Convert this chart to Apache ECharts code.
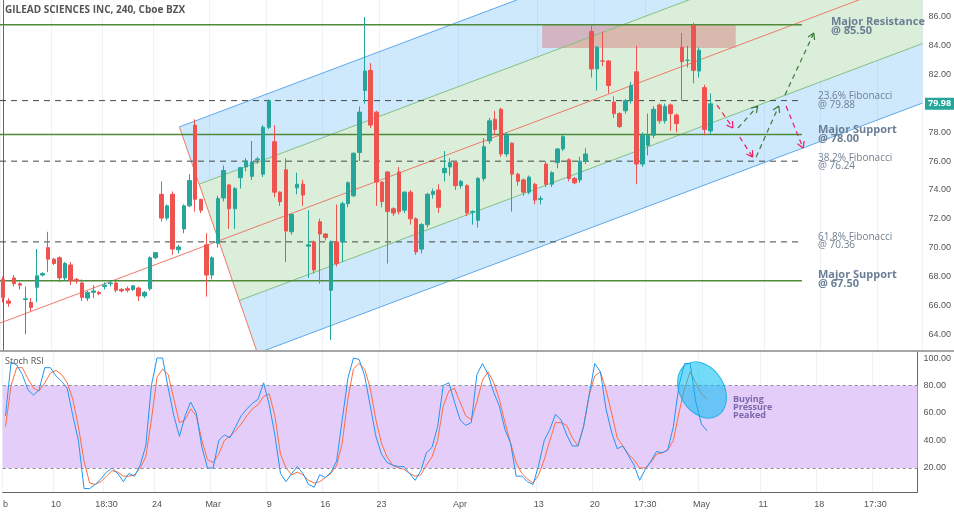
<!DOCTYPE html>
<html>
<head>
<meta charset="utf-8">
<script src="https://cdn.jsdelivr.net/npm/echarts@6/dist/echarts.min.js"></script>
<style>
  html, body { margin: 0; padding: 0; background: #fff; }
  #chartBox { width: 954px; height: 513px; }
</style>
</head>
<body>
<div id="chartBox"></div>
<script>
// candles: [open, close, low, high], one per 4h bar
const candles = [
  [67.8,66.55,66.2,68.0],[66.3,66.15,65.9,66.5],[67.9,67.5,67.3,68.1],[67.5,67.4,67.1,67.6],
  [66.4,66.45,64.0,67.3],[66.2,65.85,65.6,66.5],[67.25,68.05,66.2,69.9],[68.1,68.2,68.0,68.3],
  [70.0,69.2,68.3,71.1],[69.2,68.9,68.8,69.3],[69.3,67.9,67.6,69.4],[67.9,68.9,67.7,69.0],
  [68.8,67.7,67.4,69.0],[67.8,67.7,67.5,67.9],[67.55,66.55,66.3,67.8],[66.5,66.9,66.3,67.0],
  [66.9,67.0,66.5,67.4],[66.9,66.8,66.7,67.0],[67.3,67.4,67.1,67.6],[67.5,67.55,67.3,67.7],
  [67.55,67.05,66.9,67.7],[67.1,67.0,66.9,67.2],[67.15,67.05,66.9,67.3],[67.1,67.35,67.0,67.4],
  [67.2,66.65,66.3,67.3],[66.65,66.9,66.5,67.0],[67.15,69.3,67.0,69.4],[69.3,69.65,69.2,69.7],
  [73.7,72.05,71.8,74.6],[72.05,72.9,71.9,73.0],[73.7,69.9,69.5,73.9],[69.85,70.05,69.6,70.2],
  [71.3,72.9,71.0,73.0],[72.9,74.65,72.8,75.1],[78.5,73.35,72.5,78.9],[73.35,72.6,72.4,73.4],
  [70.2,68.1,66.6,71.0],[68.1,69.3,67.8,69.4],[70.3,73.4,70.0,73.6],[73.45,75.35,73.2,75.7],
  [74.35,72.7,71.3,74.4],[72.7,74.1,71.3,74.2],[74.85,75.55,74.1,75.6],[75.6,76.0,75.3,76.2],
  [74.95,75.95,74.7,77.4],[76.1,76.15,75.8,76.3],[75.1,78.35,74.9,78.5],[78.35,80.2,78.2,80.3],
  [77.35,73.85,73.5,78.5],[73.85,73.2,72.9,73.9],[75.4,71.15,69.0,76.2],[71.1,72.3,70.9,72.4],
  [74.15,74.4,73.7,75.2],[74.4,73.65,72.9,74.7],[70.1,70.2,67.9,72.6],[70.4,68.45,68.2,70.5],
  [71.8,70.95,67.5,72.0],[70.95,70.7,70.5,71.0],[67.05,70.4,63.6,70.5],[70.4,68.9,68.7,73.0],
  [70.4,73.05,69.0,73.2],[73.05,74.5,72.8,74.6],[73.6,76.55,73.5,76.6],[76.6,79.4,76.0,79.8],
  [80.9,82.25,80.0,86.0],[82.3,78.5,78.3,82.8],[79.4,74.55,72.9,79.5],[74.55,73.2,72.8,74.6],
  [75.25,72.5,68.9,75.3],[72.7,72.4,72.2,72.8],[75.25,72.5,72.3,75.6],[72.6,73.85,72.4,73.9],
  [73.85,72.0,71.6,74.0],[72.0,69.7,69.5,72.1],[69.9,71.6,69.6,71.7],[71.6,73.7,71.4,73.8],
  [73.7,73.9,73.4,74.1],[74.0,72.8,72.4,74.4],[75.2,75.5,74.6,76.7],[75.6,75.9,75.0,76.2],
  [75.9,74.3,74.0,76.0],[74.3,74.6,74.1,74.7],[74.3,72.4,72.2,74.4],[72.45,72.5,71.6,72.6],
  [71.9,74.8,71.4,74.9],[74.8,77.0,74.6,77.6],[77.4,78.8,77.2,79.0],[78.9,78.2,77.8,79.5],
  [79.6,76.5,76.3,79.7],[76.5,77.8,76.3,78.0],[77.25,75.1,72.5,77.3],[75.1,74.6,74.3,75.2],
  [74.7,73.85,73.6,74.8],[73.85,74.9,73.7,75.0],[74.4,73.3,73.0,74.5],[73.35,73.4,73.0,73.6],
  [75.8,74.4,74.2,76.0],[74.4,75.2,74.2,75.3],[75.9,76.85,75.5,76.9],[76.85,77.7,76.7,77.8],
  [76.1,74.8,74.6,76.2],[74.8,74.5,74.4,74.9],[74.7,76.0,74.5,76.3],[76.0,76.5,75.8,76.9],
  [85.0,82.4,81.8,85.4],[82.4,83.9,80.9,84.0],[82.95,82.95,82.6,85.0],[82.95,81.25,80.7,83.0],
  [80.1,79.3,79.0,80.5],[79.3,78.4,78.3,79.4],[79.5,80.2,79.3,80.3],[80.2,81.25,80.0,81.5],
  [82.2,75.8,74.4,84.0],[75.8,77.8,75.6,78.0],[77.1,77.8,76.4,79.3],[77.8,79.6,77.6,79.8],
  [79.9,78.8,78.6,80.0],[78.8,79.8,78.6,80.0],[79.9,79.3,78.1,80.0],[79.2,78.6,78.0,79.3],
  [83.9,82.9,80.2,84.9],[83.0,83.0,82.5,84.0],[85.4,82.3,81.4,85.6],[82.25,83.7,81.8,83.9],
  [81.1,78.2,77.8,81.3],[78.1,79.98,77.9,80.7]
];
const stochK = [58,97,95,88,77,73,77,93,93,87,83,78,58,40,5,5,8,12,17,20,16,10,16,14,22,36,80,100,100,78,
  58,43,58,68,60,35,20,20,40,44,42,50,58,63,67,70,82,66,44,16,10,16,21,16,8,6,15,13,17,25,
  55,85,100,99,87,65,43,30,24,22,21,21,16,11,18,31,35,50,80,82,68,55,51,53,88,96,88,75,65,48,
  38,14,14,10,8,22,40,48,59,55,44,36,36,50,73,96,90,63,46,34,36,29,22,11,19,25,32,31,33,50,
  80,96,96,68,52,47];
const stochD = [50,80,93,93,85,78,76,82,89,91,88,82,70,50,25,9,8,10,14,18,17,14,14,15,20,28,55,86,92,88,
  70,53,55,63,58,40,26,24,30,40,43,47,52,58,63,66,72,74,58,30,20,15,17,15,11,9,10,13,16,22,
  38,70,92,96,92,78,55,38,28,22,20,19,16,14,15,22,28,40,65,76,78,68,58,55,68,84,90,82,70,53,
  38,24,16,12,9,15,26,40,53,53,51,42,36,50,73,87,90,77,60,42,36,30,26,20,20,24,30,31,33,40,
  60,78,90,82,74,70];
const slotCount = 163;
const tickIdx = [0, 9, 18, 27, 37, 47, 57, 67, 81, 95, 105, 114, 124, 135, 145, 155];
const tickText = ['b', '10', '18:30', '24', 'Mar', '9', '16', '23', 'Apr', '13', '20', '17:30', 'May', '11', '18', '17:30'];
const priceTicks = [64, 66, 68, 70, 72, 74, 76, 78, 80, 82, 84, 86];
const rsiTicks = [20, 40, 60, 80, 100];
const levelsSolid = [85.47, 77.85, 67.7];
const levelsDashed = [80.2, 76.0, 70.4];
const lastPrice = 79.98;

// drawing geometry (regression channel, boxes, projection arrows)
const chanP0 = [73.77, 69.28, 64.84, 60.16, 56.03]; // upper blue, upper green, mid, lower green, lower blue
const chanLeft = [31.2, 34.7, 38.1, 41.8, 45.0];
const chanSlope = 0.1477;
const chanRight = 162.5;
const levelEnd = 141.2;
const zoneBox = [95.3, 129.5, 83.85, 85.44];
const arrows = [
  ['#e91e63', 126.2, 79.89, 129.0, 78.30],
  ['#3b7a3b', 129.9, 78.30, 133.4, 79.82],
  ['#e91e63', 130.2, 77.67, 132.5, 76.28],
  ['#3b7a3b', 133.1, 76.28, 137.1, 79.82],
  ['#e91e63', 138.4, 79.82, 141.4, 76.91],
  ['#3b7a3b', 138.2, 80.59, 143.3, 84.89]
];

const cats = []
for (let i = 0; i < slotCount; i++) cats.push(String(i))
const labelAt = {}
tickIdx.forEach((t, k) => { labelAt[t] = tickText[k] })
const isTick = (i) => labelAt[i] !== undefined

const chanAt = (k, x) => chanP0[k] + chanSlope * x

function renderOverlay(params, api) {
  const P = (x, y) => api.coord([x, y])
  const ch = []
  const line = (pts, stroke, w, dash) => ch.push({
    type: 'polyline', shape: { points: pts },
    style: { stroke: stroke, lineWidth: w, lineDash: dash || null, fill: null }
  })
  // outer blue band
  ch.push({ type: 'polygon', shape: { points: [
    P(chanLeft[0], chanAt(0, chanLeft[0])), P(chanRight, chanAt(0, chanRight)),
    P(chanRight, chanAt(4, chanRight)), P(chanLeft[4], chanAt(4, chanLeft[4]))
  ] }, style: { fill: 'rgba(33,150,243,0.22)' } })
  // inner green band
  ch.push({ type: 'polygon', shape: { points: [
    P(chanLeft[1], chanAt(1, chanLeft[1])), P(chanRight, chanAt(1, chanRight)),
    P(chanRight, chanAt(3, chanRight)), P(chanLeft[3], chanAt(3, chanLeft[3]))
  ] }, style: { fill: 'rgba(218,238,214,0.93)' } })
  // zone box
  ch.push({ type: 'polygon', shape: { points: [
    P(zoneBox[0], zoneBox[2]), P(zoneBox[1], zoneBox[2]), P(zoneBox[1], zoneBox[3]), P(zoneBox[0], zoneBox[3])
  ] }, style: { fill: 'rgba(214,120,120,0.45)' } })
  const edgeCol = ['#5ea8e8', '#84c084', null, '#84c084', '#5ea8e8']
  ;[0, 1, 3, 4].forEach(k => line([P(chanLeft[k], chanAt(k, chanLeft[k])), P(chanRight, chanAt(k, chanRight))], edgeCol[k], 1))
  line([P(-0.5, chanAt(2, -0.5)), P(chanRight, chanAt(2, chanRight))], '#ee7a6a', 1)
  line([P(chanLeft[0], chanAt(0, chanLeft[0])), P(chanLeft[4], chanAt(4, chanLeft[4]))], '#ee7a6a', 1)
  levelsSolid.forEach(v => line([P(-0.5, v), P(levelEnd, v)], '#4e8a3a', 1.5))
  levelsDashed.forEach(v => line([P(-0.5, v), P(levelEnd, v)], '#3f4a40', 1, [6, 5]))
  arrows.forEach(a => {
    const s = P(a[1], a[2]), e = P(a[3], a[4])
    line([s, e], a[0], 1.2, [5, 4])
    const ang = Math.atan2(e[1] - s[1], e[0] - s[0])
    ;[2.6, -2.6].forEach(d => line([e, [e[0] + 7 * Math.cos(ang + d), e[1] + 7 * Math.sin(ang + d)]], a[0], 1.2))
  })
  return { type: 'group', children: ch }
}

const chart = echarts.init(document.getElementById('chartBox'))
const txt = (left, top, text, size, weight, color) => ({
  type: 'text', left: left, top: top, z: 100,
  style: { text: text, fontSize: size, fontWeight: weight, fill: color, fontFamily: '"Open Sans", sans-serif' }
})
const lastY = 17 + (86 - lastPrice) * 14.41

const option = {
  animation: false,
  backgroundColor: '#fff',
  grid: [
    { left: 0, right: 29, top: 0, height: 350 },
    { left: 0, right: 29, top: 352, height: 140 }
  ],
  xAxis: [
    { type: 'category', gridIndex: 0, data: cats, boundaryGap: true,
      axisLine: { show: false }, axisTick: { show: false }, axisLabel: { show: false },
      splitLine: { show: true, interval: (i) => isTick(i), lineStyle: { color: '#eef1f7' } } },
    { type: 'value', gridIndex: 0, min: -0.5, max: slotCount - 0.5, show: false },
    { type: 'category', gridIndex: 1, data: cats, boundaryGap: true,
      axisLine: { show: true, lineStyle: { color: '#666' } }, axisTick: { show: false },
      axisLabel: { interval: (i) => isTick(i), formatter: (v) => labelAt[+v] || '', fontSize: 9, color: '#555', margin: 8 },
      splitLine: { show: true, interval: (i) => isTick(i), lineStyle: { color: '#eef1f7' } } }
  ],
  yAxis: [
    { type: 'value', gridIndex: 0, position: 'right', min: 62.9, max: 87.18,
      axisLine: { show: true, lineStyle: { color: '#666' } },
      axisTick: { show: false },
      axisLabel: { customValues: priceTicks, formatter: (v) => v.toFixed(2), fontSize: 9, color: '#555', margin: 6 },
      splitLine: { show: false } },
    { type: 'value', gridIndex: 1, position: 'right', min: 2.5, max: 104.4,
      axisLine: { show: true, lineStyle: { color: '#666' } },
      axisTick: { show: false },
      axisLabel: { customValues: rsiTicks, formatter: (v) => v.toFixed(2), fontSize: 9, color: '#555', margin: 6 },
      splitLine: { show: false } }
  ],
  series: [
    { type: 'custom', xAxisIndex: 1, yAxisIndex: 0, data: [[0, 70]], renderItem: renderOverlay, clip: true, z: 1, silent: true },
    { type: 'candlestick', xAxisIndex: 0, yAxisIndex: 0, data: candles, barWidth: 4, z: 3,
      itemStyle: { color: '#26a69a', color0: '#ef5350', borderColor: '#26a69a', borderColor0: '#ef5350' } },
    { type: 'line', xAxisIndex: 2, yAxisIndex: 1, data: stochD, symbol: 'none', z: 3,
      lineStyle: { color: '#ff6d3f', width: 1 },
      markArea: { silent: true, itemStyle: { color: '#e5cdf9' }, data: [[{ yAxis: 20 }, { yAxis: 80 }]] },
      markLine: { silent: true, symbol: 'none', label: { show: false },
        lineStyle: { color: '#8a8a9a', type: [3, 3], width: 1 }, data: [{ yAxis: 20 }, { yAxis: 80 }] } },
    { type: 'line', xAxisIndex: 2, yAxisIndex: 1, data: stochK, symbol: 'none', z: 4,
      lineStyle: { color: '#2196f3', width: 1 } }
  ],
  graphic: [
    { type: 'line', shape: { x1: 0, y1: 351, x2: 954, y2: 351 }, style: { stroke: '#888', lineWidth: 1.5 }, z: 50 },
    { type: 'ellipse', shape: { cx: 702, cy: 390, rx: 22, ry: 30 }, rotation: 0.55, originX: 702, originY: 390,
      style: { fill: 'rgba(0,190,240,0.55)', stroke: 'rgba(0,170,230,0.8)' }, z: 60 },
    txt(5, 5, 'GILEAD SCIENCES INC, 240, Cboe BZX', 10, 'bold', '#555'),
    txt(5, 357, 'Stoch RSI', 9, 'normal', '#555'),
    txt(831, 16, 'Major Resistance', 11, 'bold', '#6a7f95'),
    txt(831, 25, '@ 85.50', 11, 'bold', '#6a7f95'),
    txt(818, 91, '23.6% Fibonacci', 10, 'normal', '#6f7f90'),
    txt(818, 100, '@ 79.88', 10, 'normal', '#6f7f90'),
    txt(818, 124, 'Major Support', 11, 'bold', '#6a7f95'),
    txt(818, 133, '@ 78.00', 11, 'bold', '#6a7f95'),
    txt(818, 153, '38.2% Fibonacci', 10, 'normal', '#6f7f90'),
    txt(818, 161, '@ 76.24', 10, 'normal', '#6f7f90'),
    txt(818, 232, '61.8% Fibonacci', 10, 'normal', '#6f7f90'),
    txt(818, 240, '@ 70.36', 10, 'normal', '#6f7f90'),
    txt(818, 269, 'Major Support', 11, 'bold', '#6a7f95'),
    txt(818, 278, '@ 67.50', 11, 'bold', '#6a7f95'),
    { type: 'text', left: 733, top: 395, z: 100,
      style: { text: 'Buying\nPressure\nPeaked', fontSize: 9, fontWeight: 'bold', fill: '#7a68a8', align: 'center', lineHeight: 8, fontFamily: '"Open Sans", sans-serif' } },
    { type: 'rect', shape: { x: 925, y: lastY - 6, width: 29, height: 12 }, style: { fill: '#26a69a' }, z: 100 },
    { type: 'text', left: 928, top: lastY - 5, z: 101,
      style: { text: lastPrice.toFixed(2), fontSize: 9, fill: '#fff', fontWeight: 'bold', fontFamily: '"Open Sans", sans-serif' } }
  ]
}
chart.setOption(option)
</script>
</body>
</html>
